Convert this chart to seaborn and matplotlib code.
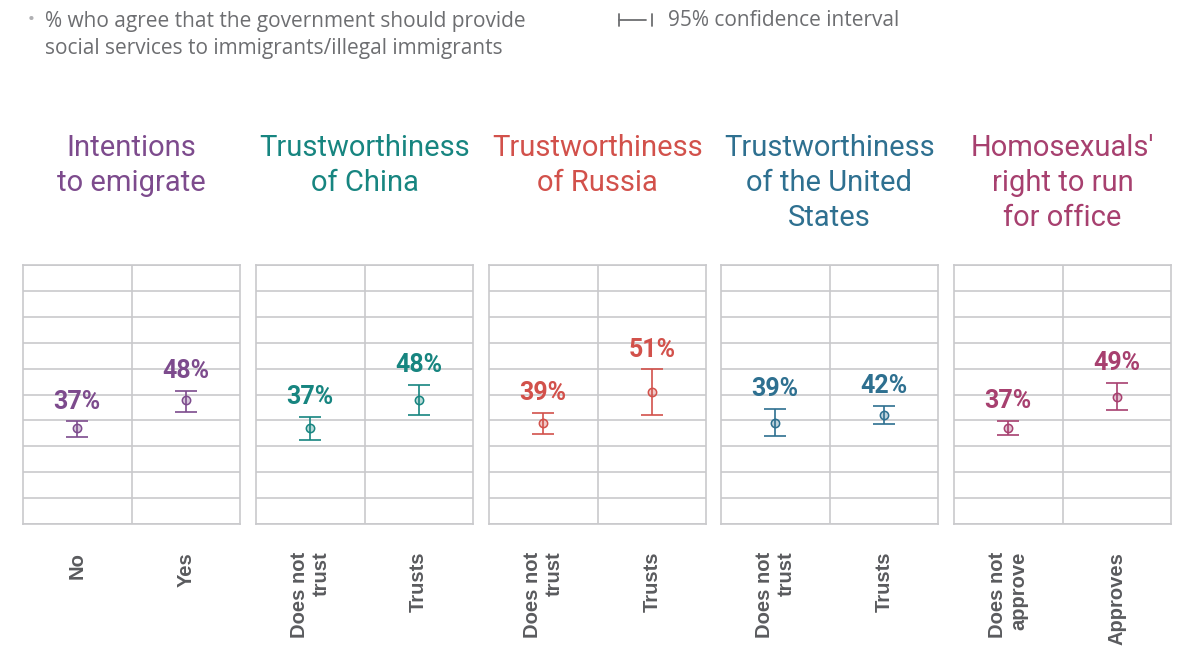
import matplotlib
matplotlib.use("Agg")
import matplotlib.pyplot as plt
from matplotlib.lines import Line2D
import seaborn as sns
import pandas as pd

# Panel titles, response groups, estimates and 95% confidence bounds
panel_titles = [
    "Intentions\nto emigrate",
    "Trustworthiness\nof China",
    "Trustworthiness\nof Russia",
    "Trustworthiness\nof the United\nStates",
    "Homosexuals'\nright to run\nfor office",
]
groups = [
    ["No", "Yes"],
    ["Does not\ntrust", "Trusts"],
    ["Does not\ntrust", "Trusts"],
    ["Does not\ntrust", "Trusts"],
    ["Does not\napprove", "Approves"],
]
values = [
    [37, 48],
    [37, 48],
    [39, 51],
    [39, 42],
    [37, 49],
]
ci_low = [
    [33.6, 43.4],
    [32.4, 42.2],
    [34.9, 42.1],
    [34.1, 38.7],
    [34.4, 44.2],
]
ci_high = [
    [39.6, 51.5],
    [41.4, 53.8],
    [43.0, 59.7],
    [44.5, 45.7],
    [39.8, 54.6],
]
panel_colors = ["#7d4b8d", "#178580", "#d2514b", "#2e7090", "#a7406f"]

header_text = ("% who agree that the government should provide\n"
               "social services to immigrants/illegal immigrants")
legend_text = "95% confidence interval"

sns.set_theme(style="white")
plt.rcParams["font.family"] = ["Roboto", "DejaVu Sans"]

W, H = 1192, 646
fig = plt.figure(figsize=(W / 100, H / 100), dpi=100)

grid_col = "#c9c9cc"
label_col = "#5a5b5e"
text_col = "#6d6e71"

panel_left = [23, 256, 489, 721, 954]
panel_w = 217
ax_bottom = 524
ax_top = 265

for i in range(len(panel_titles)):
    left = panel_left[i] / W
    bottom = 1 - ax_bottom / H
    ax = fig.add_axes([left, bottom, panel_w / W, (ax_bottom - ax_top) / H])
    col = panel_colors[i]
    df = pd.DataFrame({
        "group": groups[i],
        "value": values[i],
        "lo": ci_low[i],
        "hi": ci_high[i],
    })

    # confidence interval whiskers
    ax.errorbar(
        x=range(len(df)), y=df["value"],
        yerr=[df["value"] - df["lo"], df["hi"] - df["value"]],
        fmt="none", ecolor=col, elinewidth=1.2, capsize=7.8, capthick=1.2,
        zorder=4,
    )
    # point estimates
    n_before = len(ax.collections)
    sns.stripplot(data=df, x="group", y="value", order=groups[i], jitter=False,
                  color=col, size=6, linewidth=1.1, edgecolor=col, ax=ax,
                  zorder=5)
    for pts in ax.collections[n_before:]:
        pts.set_facecolor(matplotlib.colors.to_rgba(col, 0.3))
        pts.set_edgecolor(col)

    # value labels above the upper bound
    for j, row in df.iterrows():
        ax.annotate(f"{row['value']:.0f}%", xy=(j, row["hi"]),
                    xytext=(0, 9), textcoords="offset points",
                    ha="center", va="baseline", fontsize=18,
                    fontweight="bold", color=col, zorder=6)

    ax.set_xlim(-0.5, 1.5)
    ax.set_ylim(0, 100)
    ax.set_yticks(range(0, 101, 10))
    ax.set_yticklabels([])
    ax.yaxis.grid(True, color=grid_col, linewidth=1.2)
    ax.axvline(0.5, color=grid_col, linewidth=1.2, zorder=1)
    ax.set_axisbelow(True)
    for sp in ax.spines.values():
        sp.set_color(grid_col)
        sp.set_linewidth(1.2)
    ax.set_xlabel("")
    ax.set_ylabel("")
    ax.tick_params(axis="both", length=0)
    ax.tick_params(axis="x", pad=20)
    for lab in ax.get_xticklabels():
        lab.set_rotation(90)
        lab.set_ha("center")
        lab.set_va("top")
        lab.set_multialignment("right")
        lab.set_fontfamily(["Liberation Sans", "DejaVu Sans"])
        lab.set_fontweight("bold")
        lab.set_fontsize(14.5)
        lab.set_color(label_col)
        lab.set_linespacing(1.15)

    # panel heading
    cx = (panel_left[i] + panel_w / 2) / W
    fig.text(cx, 1 - 134 / H, panel_titles[i], ha="center", va="top",
             fontsize=21, color=col, linespacing=1.32)

# header note and interval key
fig.text(31 / W, 1 - 20 / H, "•", ha="center", va="center",
         fontsize=15, color="#b0b0b3")
fig.text(45 / W, 1 - 11 / H, header_text, ha="left", va="top",
         fontsize=15, color=text_col, linespacing=1.36,
         family=["Open Sans", "DejaVu Sans"])

ky = 1 - 20 / H
kc = "#6d6e71"
fig.add_artist(Line2D([619 / W, 619 / W], [ky - 6 / H, ky + 6 / H], color=kc, lw=1.3))
fig.add_artist(Line2D([652 / W, 652 / W], [ky - 6 / H, ky + 6 / H], color=kc, lw=1.3))
fig.add_artist(Line2D([619 / W, 646 / W], [ky, ky], color=kc, lw=1.3))
fig.text(668 / W, ky, legend_text, ha="left", va="center", fontsize=15,
         color=text_col, family=["Open Sans", "DejaVu Sans"])

fig.savefig("out.png", dpi=100, facecolor="white")
